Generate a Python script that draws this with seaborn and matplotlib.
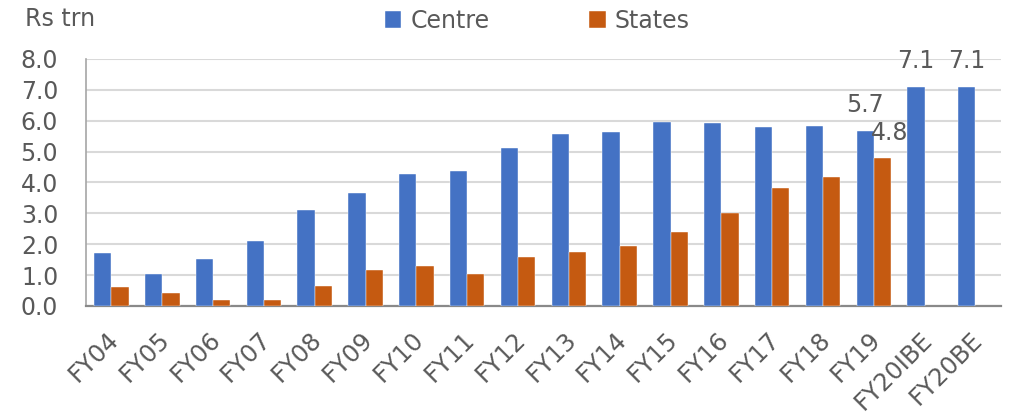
import numpy as np
import pandas as pd
import matplotlib
matplotlib.use("Agg")
import matplotlib.pyplot as plt
import matplotlib.transforms as mtransforms
import seaborn as sns

categories = ["FY04", "FY05", "FY06", "FY07", "FY08", "FY09", "FY10", "FY11", "FY12",
              "FY13", "FY14", "FY15", "FY16", "FY17", "FY18", "FY19", "FY20IBE", "FY20BE"]
centre = [1.71, 1.04, 1.52, 2.10, 3.11, 3.67, 4.28, 4.36, 5.11,
          5.57, 5.63, 5.95, 5.93, 5.80, 5.82, 5.67, 7.09, 7.09]
states = [0.60, 0.41, 0.19, 0.18, 0.65, 1.17, 1.29, 1.03, 1.57,
          1.76, 1.95, 2.38, 3.00, 3.81, 4.18, 4.78, np.nan, np.nan]
series_names = ["Centre", "States"]
ytick_values = [0.0, 1.0, 2.0, 3.0, 4.0, 5.0, 6.0, 7.0, 8.0]

df = pd.DataFrame({
    "cat": categories * 2,
    "series": [series_names[0]] * len(categories) + [series_names[1]] * len(categories),
    "value": centre + states,
})

sns.set_theme(style="white")
plt.rcParams["font.family"] = ["DejaVu Sans"]
txt = "#595959"

fig = plt.figure(figsize=(10.12, 4.18), dpi=100)
ax = fig.add_axes([0.085, 0.268, 0.904, 0.591])

sns.barplot(data=df, x="cat", y="value", hue="series", order=categories,
            hue_order=series_names, palette=["#4472C4", "#C55A11"], saturation=1,
            width=0.68, gap=0, edgecolor="white", linewidth=0.3,
            errorbar=None, ax=ax, legend=True, zorder=3)

ax.set_ylim(0, 8)
ax.set_xlim(-0.5, len(categories) - 0.5)
ax.set_yticks(ytick_values)
ax.set_yticklabels([f"{v:.1f}" for v in ytick_values])
ax.grid(axis="y", color="#D9D9D9", linewidth=1.5, zorder=0)
ax.set_axisbelow(True)
ax.set_xlabel("")
ax.set_ylabel("")
for s in ["top", "right"]:
    ax.spines[s].set_visible(False)
ax.spines["left"].set_color("#A6A6A6")
ax.spines["left"].set_linewidth(1.2)
ax.spines["bottom"].set_color("#898989")
ax.spines["bottom"].set_linewidth(1.6)
ax.tick_params(axis="y", length=0, pad=20, labelsize=17, labelcolor=txt)
ax.tick_params(axis="x", length=0, pad=15.5, labelsize=17.5, labelcolor=txt)
shift = mtransforms.ScaledTranslation(-5 / 100, 0, fig.dpi_scale_trans)
for lab in ax.get_xticklabels():
    lab.set_rotation(45)
    lab.set_ha("right")
    lab.set_va("top")
    lab.set_rotation_mode("anchor")
    lab.set_transform(lab.get_transform() + shift)

# data labels
off = 0.68 / 4
ann = [(15, centre[15], -off), (15, states[15], off + 0.15),
       (16, centre[16], -off), (17, centre[17], -off)]
for i, v, dx in ann:
    ax.annotate(f"{v:.1f}", (i + dx, v), xytext=(0, 13.5), textcoords="offset points",
                ha="center", va="baseline", fontsize=17, color=txt)

ax.get_legend().remove()
handles, labels = ax.get_legend_handles_labels()
fig.legend(handles, labels, loc="center", bbox_to_anchor=(0.531, 0.95), ncol=2, frameon=False,
           fontsize=17, labelcolor=txt, handlelength=0.7, handleheight=0.7,
           handletextpad=0.4, columnspacing=4.2)

fig.text(0.025, 0.955, "Rs trn", fontsize=17, color=txt, va="center")

fig.savefig("out.png", dpi=100)
